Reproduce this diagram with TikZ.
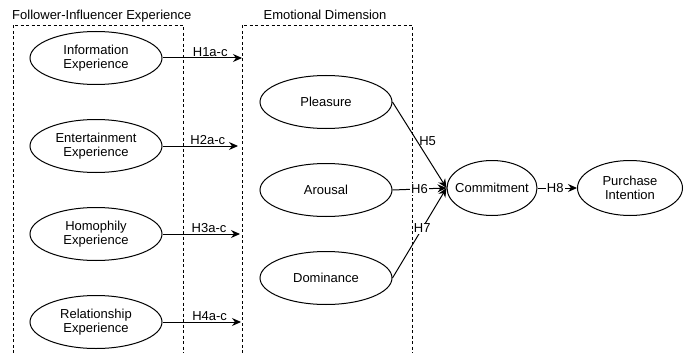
\documentclass[tikz,border=0pt]{standalone}
\usepackage{fontspec}
\setmainfont{Liberation Sans}
\usetikzlibrary{shapes.geometric,arrows.meta}

\begin{document}
\begin{tikzpicture}[x=1pt, y=-1pt,
        construct/.style={draw, ellipse, line width=1pt, minimum width=132pt, minimum height=53pt, inner sep=0pt, align=center, font=\fontsize{13}{14.5}\selectfont},
        hyp/.style={-{Stealth[length=9pt, width=8pt]}, line width=1pt},
        hlabel/.style={font=\fontsize{13}{14.5}\selectfont, inner sep=1pt},
        group/.style={line width=0.9pt, dash pattern=on 3pt off 2.5pt}]
        % Define Variables
        \def\lL{13}
        \def\lR{183}
        \def\eL{242}
        \def\eR{412}
        \def\boxtop{25}
        \def\bottom{353}
        \def\tip{240}

        \useasboundingbox (0,0) rectangle (691,353);

        % Groups
        \draw[group] (\lL,\bottom) |- (\lR,\boxtop) -- (\lR,\bottom);
        \draw[group] (\eL,\bottom) |- (\eR,\boxtop) -- (\eR,\bottom);
        \node[anchor=base west, hlabel] (fie-t) at (11,20) {Follower-Influencer Experience};
        \node[anchor=base, hlabel] (emo-t) at (325,20) {Emotional Dimension};

        % Experience Constructs
        \node[construct] (info) at (96,58) {Information\\Experience};
        \node[construct] (ent) at (96,146) {Entertainment\\Experience};
        \node[construct] (homo) at (96,234) {Homophily\\Experience};
        \node[construct] (rel) at (96,322) {Relationship\\Experience};

        % Emotional Constructs
        \node[construct] (plea) at (326,102) {Pleasure};
        \node[construct] (arou) at (326,190) {Arousal};
        \node[construct] (domi) at (326,278) {Dominance};

        % Outcomes
        \node[construct, minimum width=90pt, minimum height=55pt, inner xsep=-6pt] (comm) at (492,188) {Commitment};
        \node[construct, minimum width=105pt, minimum height=55pt] (purch) at (630,188) {Purchase\\Intention};

        % Experience -> Emotional Dimension
        \coordinate (h1) at (\tip+2,58);
        \coordinate (h2) at (\tip-2,146);
        \coordinate (h3) at (\tip,234);
        \coordinate (h4) at (\tip+1,322);
        \draw[hyp] (info.east) -- (h1) node[pos=0.6, above, hlabel] {H1a-c};
        \draw[hyp] (ent.east) -- (h2) node[pos=0.6, above, hlabel] {H2a-c};
        \draw[hyp] (homo.east) -- (h3) node[pos=0.6, above, hlabel] {H3a-c};
        \draw[hyp] (rel.east) -- (h4) node[pos=0.6, above, hlabel] {H4a-c};

        % Emotional -> Commitment -> Purchase
        \draw[hyp] (plea.east) -- (comm.west) node[pos=0.45, right=1pt, hlabel] {H5};
        \draw[hyp] (arou.east) -- (comm.west) node[midway, fill=white, hlabel] {H6};
        \draw[hyp] (domi.east) -- (comm.west) node[pos=0.55, fill=white, hlabel] {H7};
        \draw[hyp] (comm.east) -- (purch.west) node[pos=0.45, fill=white, hlabel] {H8};

    \end{tikzpicture}
\end{document}
